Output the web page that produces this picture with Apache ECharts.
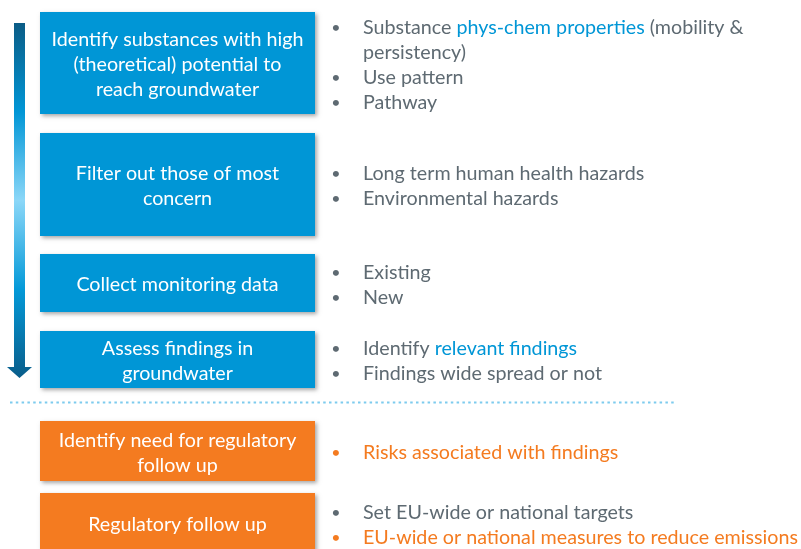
<!DOCTYPE html>
<html>
<head>
<meta charset="utf-8">
<script src="https://cdn.jsdelivr.net/npm/echarts@6/dist/echarts.min.js"></script>
<style>
html,body{margin:0;padding:0;background:#fff;}
#main{width:801px;height:549px;}
</style>
</head>
<body>
<div id="main"></div>
<script>
// ---- content ----
const stepLabels = [
  "Identify substances with high\n(theoretical) potential to\nreach groundwater",
  "Filter out those of most\nconcern",
  "Collect monitoring data",
  "Assess findings in\ngroundwater",
  "Identify need for regulatory\nfollow up",
  "Regulatory follow up"
];
const stepPhase = ["assess","assess","assess","assess","regulate","regulate"];
// bullets: segments in [brackets] are highlighted; tone = text colour group
const stepBullets = [
  [{text:"Substance [phys-chem properties] (mobility &\npersistency)", tone:"grey"},
   {text:"Use pattern", tone:"grey"},
   {text:"Pathway", tone:"grey"}],
  [{text:"Long term human health hazards", tone:"grey"},
   {text:"Environmental hazards", tone:"grey"}],
  [{text:"Existing", tone:"grey"},
   {text:"New", tone:"grey"}],
  [{text:"Identify [relevant findings]", tone:"grey"},
   {text:"Findings wide spread or not", tone:"grey"}],
  [{text:"Risks associated with findings", tone:"orange"}],
  [{text:"Set EU-wide or national targets", tone:"grey"},
   {text:"EU-wide or national measures to reduce emissions", tone:"orange"}]
];

// ---- layout / style ----
const FONT = "Lato, 'Open Sans', sans-serif";
const FS = 19.7;
const LH = 25;
const TXT_DY = 2;
const boxLeft = 40, boxW = 275;
const boxTop = [12, 133, 254, 331, 421, 493];
const boxH   = [102, 103, 58, 57, 60, 60];
const phaseColor = {assess:"#0096D6", regulate:"#F47B20"};
const toneColor = {grey:"#5E6A72", orange:"#F47B20"};
const hiColor = "#0096D6";
const bulletX = 336, textX = 363;

const elements = [];

// arrow
elements.push({
  type:'polygon',
  shape:{points:[[14,23],[25,23],[25,367],[32,367],[19.5,378],[7,367],[14,367]]},
  style:{fill:new echarts.graphic.LinearGradient(0,0,0,1,[
    {offset:0,color:'#0B5C86'},
    {offset:0.25,color:'#0096D6'},
    {offset:0.5,color:'#8BD7F8'},
    {offset:0.75,color:'#0399D8'},
    {offset:1,color:'#0A5D8A'}
  ])},
  z:1
});

// dotted divider
elements.push({
  type:'line',
  shape:{x1:10,y1:402.5,x2:675,y2:402.5},
  style:{stroke:'#7DCBEE',lineWidth:2,lineDash:[2.5,3.3]},
  z:1
});

function richFor(tone){
  return {
    n:{fill:toneColor[tone],fontSize:FS,fontFamily:FONT,lineHeight:LH},
    h:{fill:hiColor,fontSize:FS,fontFamily:FONT,lineHeight:LH}
  };
}
function toRich(text){
  let out = "";
  const re = /\[([^\]]*)\]/g;
  let last = 0, m;
  while((m = re.exec(text))){
    if(m.index>last) out += segs(text.slice(last,m.index),'n');
    out += segs(m[1],'h');
    last = re.lastIndex;
  }
  if(last<text.length) out += segs(text.slice(last),'n');
  return out;
}
function segs(s,k){
  return s.split("\n").map(p=>p?`{${k}|${p}}`:"").join("\n");
}

stepLabels.forEach((lab,i)=>{
  const top = boxTop[i], h = boxH[i];
  elements.push({
    type:'rect',
    shape:{x:boxLeft,y:top,width:boxW,height:h},
    style:{fill:phaseColor[stepPhase[i]],shadowBlur:4,shadowOffsetX:2,shadowOffsetY:2,shadowColor:'rgba(0,0,0,0.35)'},
    z:2
  });
  elements.push({
    type:'text',
    x:boxLeft+boxW/2, y:top+h/2+TXT_DY,
    style:{text:lab,fill:'#fff',fontSize:FS,fontFamily:FONT,lineHeight:LH,align:'center',verticalAlign:'middle'},
    z:3
  });
  const items = stepBullets[i];
  const nLines = items.reduce((a,b)=>a+b.text.split("\n").length,0);
  let y = top + h/2 - nLines*LH/2 + TXT_DY;
  items.forEach(it=>{
    const lines = it.text.split("\n").length;
    elements.push({
      type:'text', x:bulletX, y:y+LH/2,
      style:{text:'•',fill:toneColor[it.tone],fontSize:16,fontFamily:FONT,align:'center',verticalAlign:'middle'},
      z:3
    });
    elements.push({
      type:'text', x:textX, y:y,
      style:{text:toRich(it.text),rich:richFor(it.tone),fontSize:FS,fontFamily:FONT,lineHeight:LH,fill:toneColor[it.tone],align:'left',verticalAlign:'top'},
      z:3
    });
    y += lines*LH;
  });
});

const chart = echarts.init(document.getElementById('main'),null,{renderer:'canvas'});
chart.setOption({
  backgroundColor:'#ffffff',
  animation:false,
  graphic:{elements}
});
</script>
</body>
</html>
